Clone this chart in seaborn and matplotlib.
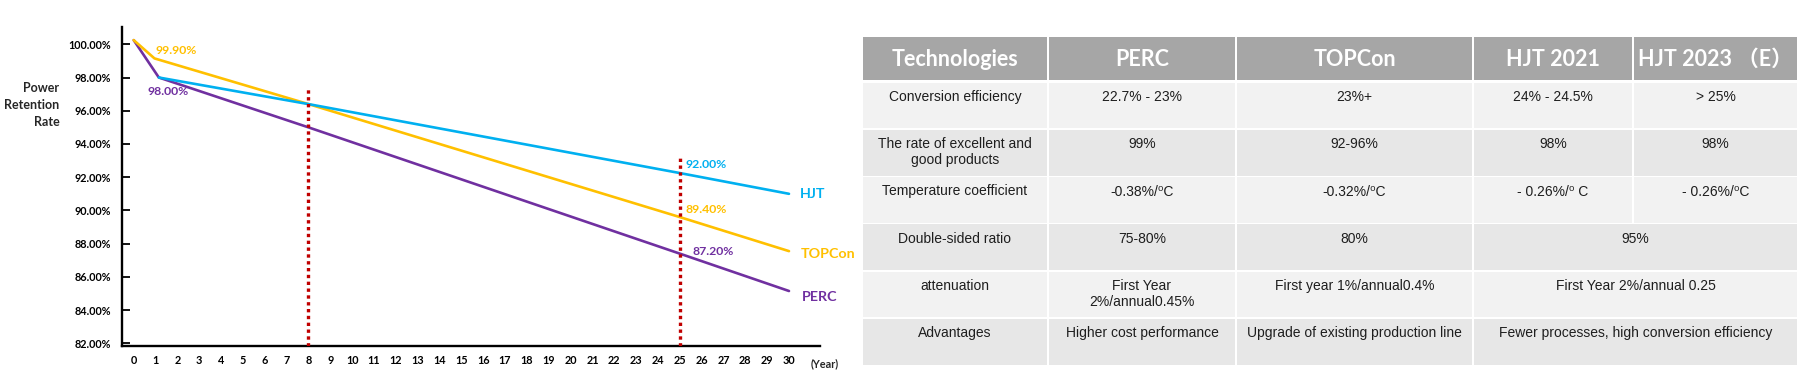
import numpy as np
import pandas as pd
import matplotlib
matplotlib.use("Agg")
import matplotlib.pyplot as plt
import seaborn as sns
from matplotlib.patches import Rectangle

# ---------------- chart data ----------------
perc_years = [0, 1.15, 8, 25, 30]
perc_vals = [100.25, 98.0, 95.0, 87.4, 85.15]
topcon_years = [0, 0.95, 8, 25, 30]
topcon_vals = [100.25, 99.15, 96.4, 89.6, 87.55]
hjt_years = [1.15, 8, 25, 30]
hjt_vals = [98.0, 96.4, 92.25, 91.0]

marker_years = [8, 25]
marker_tops = [97.45, 93.35]

y_ticks = [82, 84, 86, 88, 90, 92, 94, 96, 98, 100]
x_ticks = list(range(0, 31))

value_texts = ["99.90%", "98.00%", "92.00%", "89.40%", "87.20%"]
value_series = ["TOPCon", "PERC", "HJT", "TOPCon", "PERC"]
series_names = ["HJT", "TOPCon", "PERC"]

# ---------------- table data ----------------
table_header = ["Technologies", "PERC", "TOPCon", "HJT 2021", "HJT 2023 （E）"]
row_names = ["Conversion efficiency", "The rate of excellent and\ngood products",
             "Temperature coefficient", "Double-sided ratio", "attenuation", "Advantages"]
perc_col = ["22.7% - 23%", "99%", "-0.38%/⁰C", "75-80%",
            "First Year\n2%/annual0.45%", "Higher cost performance"]
topcon_col = ["23%+", "92-96%", "-0.32%/⁰C", "80%",
              "First year 1%/annual0.4%", "Upgrade of existing production line"]
hjt2021_col = ["24% - 24.5%", "98%", "- 0.26%/⁰ C", "95%",
               "First Year 2%/annual 0.25", "Fewer processes, high conversion efficiency"]
hjt2023_col = ["> 25%", "98%", "- 0.26%/⁰C", None, None, None]

# ---------------- styles / layout ----------------
colors = {"HJT": "#00B0F0", "TOPCon": "#FFC000", "PERC": "#7030A0"}
W, H = 1809, 391

sns.set_style("white")
plt.rcParams["font.family"] = ["Lato", "DejaVu Sans"]

fig = plt.figure(figsize=(W / 100, H / 100), dpi=100)

# ---- table (right) drawn in a full-figure pixel axes ----
tax = fig.add_axes([0, 0, 1, 1])
tax.set_xlim(0, W)
tax.set_ylim(H, 0)
tax.axis("off")
tax.patch.set_alpha(0)

col_edges = [862, 1048, 1236, 1473, 1633, 1798]
header_top, header_bot = 37, 80
row_top0, row_pitch, row_h = 82.5, 47.25, 45.8
gap = 1.8
header_color = "#A6A6A6"
row_colors = ["#F2F2F2", "#E7E7E7"]
cell_font = ["Liberation Sans", "DejaVu Sans"]
head_font = ["Lato", "Noto Sans CJK SC", "DejaVu Sans"]

for j, name in enumerate(table_header):
    x0, x1 = col_edges[j], col_edges[j + 1]
    tax.add_patch(Rectangle((x0 + gap / 2, header_top), x1 - x0 - gap,
                            header_bot - header_top, color=header_color, lw=0))
    tax.text((x0 + x1) / 2, (header_top + header_bot) / 2 + 1, name, ha="center",
             va="center", color="white", fontsize=15.5, fontweight="bold",
             family=head_font)

df = pd.DataFrame({"name": row_names, "PERC": perc_col, "TOPCon": topcon_col,
                   "HJT 2021": hjt2021_col, "HJT 2023": hjt2023_col})
for i, row in df.iterrows():
    top = row_top0 + i * row_pitch
    cells = list(row.values)
    merged = cells[4] is None
    spans = [(0, 1), (1, 2), (2, 3)] + ([(3, 5)] if merged else [(3, 4), (4, 5)])
    texts = cells[:4] if merged else cells
    for (a, b), txt in zip(spans, texts):
        x0, x1 = col_edges[a], col_edges[b]
        tax.add_patch(Rectangle((x0 + gap / 2, top), x1 - x0 - gap, row_h,
                                color=row_colors[i % 2], lw=0))
        tax.text((x0 + x1) / 2, top + 7.5, txt, ha="center", va="top",
                 fontsize=10, color="#1E1E1E", family=cell_font,
                 linespacing=1.2, multialignment="center")

# ---- line chart (left) ----
ax = fig.add_axes([122 / W, 1 - 345.5 / H, (820 - 122) / W, (345.5 - 27) / H])
ax.patch.set_alpha(0)

long = pd.concat([
    pd.DataFrame({"year": hjt_years, "rate": hjt_vals, "tech": "HJT"}),
    pd.DataFrame({"year": topcon_years, "rate": topcon_vals, "tech": "TOPCon"}),
    pd.DataFrame({"year": perc_years, "rate": perc_vals, "tech": "PERC"}),
], ignore_index=True)
sns.lineplot(data=long, x="year", y="rate", hue="tech", palette=colors,
             hue_order=["PERC", "TOPCon", "HJT"], sort=False, estimator=None,
             linewidth=1.9, legend=False, ax=ax)

ax.set_xlim(-0.536, 31.42)
ax.set_ylim(81.87, 101.04)
ax.vlines(marker_years, 81.87, marker_tops, colors="#C00000", linewidth=2.4,
          linestyles=(0, (1, 1.05)), zorder=5)

for s in ["top", "right"]:
    ax.spines[s].set_visible(False)
for s in ["left", "bottom"]:
    ax.spines[s].set_color("black")
    ax.spines[s].set_linewidth(1.7)

ax.set_yticks(y_ticks)
ax.set_yticklabels([f"{v:.2f}%" for v in y_ticks])
ax.set_xticks(x_ticks)
ax.set_xticklabels([str(v) for v in x_ticks])
ax.tick_params(axis="y", direction="in", length=5.8, width=1.3, pad=8,
               labelsize=7.8, colors="black", left=True)
ax.tick_params(axis="x", length=0, pad=6.5, labelsize=7.8, colors="black")
for lab in ax.get_yticklabels() + ax.get_xticklabels():
    lab.set_fontweight("bold")
ax.set_xlabel("")
ax.set_ylabel("")

# value labels (anchored near the values they describe)
label_pos = [(1.02, 99.65), (0.61, 97.13), (25.26, 92.79), (25.26, 90.08), (25.6, 87.5)]
for txt, ser, (lx, ly) in zip(value_texts, value_series, label_pos):
    ax.text(lx, ly, txt, color=colors[ser], fontsize=8.8, fontweight="bold",
            ha="left", va="center")

name_pos = [(30.52, 90.98), (30.52, 87.37), (30.57, 84.8)]
for nm, (lx, ly) in zip(series_names, name_pos):
    ax.text(lx, ly, nm, color=colors[nm], fontsize=10.3, fontweight="bold",
            ha="left", va="center")

ax.text(31.65, 81.87 - 18 / 16.61, "(Year)", fontsize=7.8, fontweight="bold",
        ha="center", va="center", clip_on=False)

fig.text(59.5 / W, 1 - 105 / H, "Power\nRetention\nRate", ha="right", va="center",
         multialignment="right", fontsize=9, fontweight="bold", linespacing=1.45)

fig.savefig("out.png", dpi=100)
